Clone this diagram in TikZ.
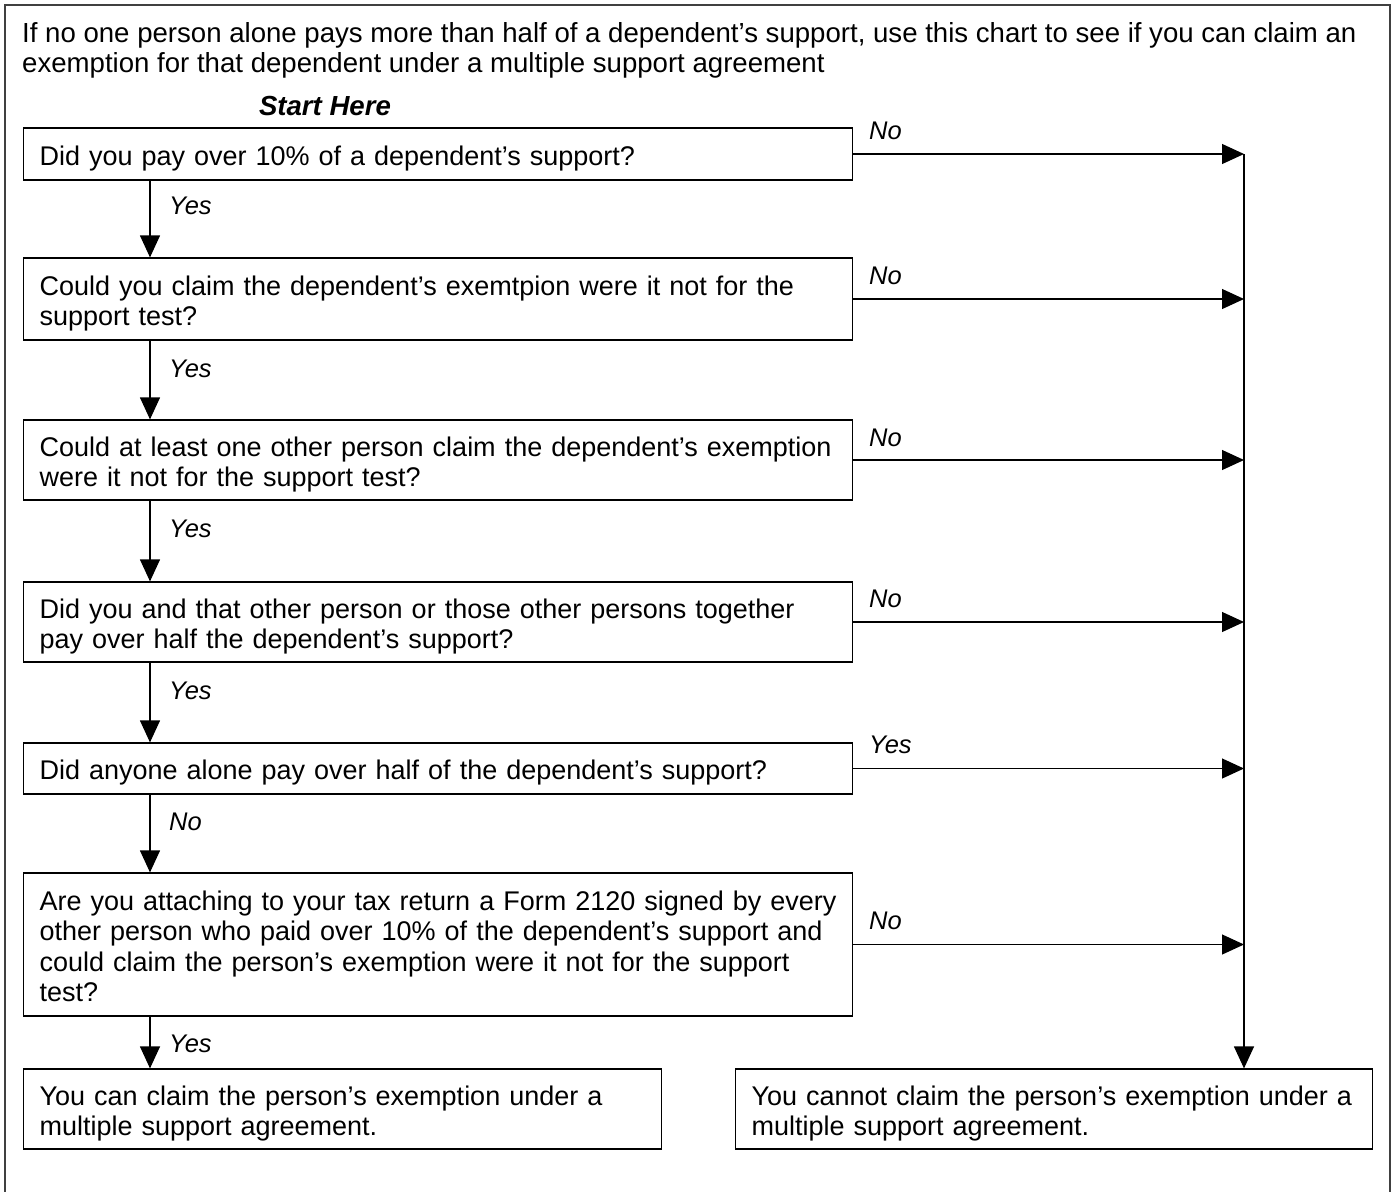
\documentclass[tikz,border=0pt]{standalone}
\usepackage{fontspec}
\setmainfont{Liberation Sans}
\usetikzlibrary{arrows.meta}
\newcommand{\mlines}[1]{\noindent\begin{tabular}{@{}l@{}}\rule{0pt}{32pt}#1\end{tabular}}
\newcommand{\tlines}[1]{\noindent\begin{tabular}{@{}l@{}}#1\end{tabular}}
\begin{document}
\begin{tikzpicture}[x=1pt,y=-1pt,
  font=\fontsize{27}{30.5}\selectfont,
  box/.style={draw, line width=1.2pt, rectangle, anchor=west, inner xsep=16pt, inner ysep=0pt, align=left},
  arr/.style={line width=1.2pt, -{Triangle[length=22pt,width=20pt]}},
  lab/.style={font=\fontsize{25.5}{30}\selectfont\itshape, inner sep=0pt, anchor=west}]
\useasboundingbox (0,0) rectangle (1393,1192);
% outer frame
\draw[line width=1.5pt, draw=black!75] (5,1220) -- (5,5) -- (1390,5) -- (1390,1220);
% title
\node[anchor=west, inner sep=0pt, align=left, font=\fontsize{27.6}{30}\selectfont] (title) at (22,51.5)
  {\tlines{If no one person alone pays more than half of a dependent’s support, use this chart to see if you can claim an\\
  exemption for that dependent under a multiple support agreement}};
\node[inner sep=0pt, font=\fontsize{27.6}{30.5}\selectfont\bfseries\itshape] (start) at (325,106) {Start Here};
% boxes
\node[box, minimum width=829pt, minimum height=52pt, text width=797pt] (b1) at (23,154)
  {\mlines{Did you pay over 10\% of a dependent’s support?}};
\node[box, minimum width=829pt, minimum height=82pt, text width=797pt] (b2) at (23,299)
  {\mlines{Could you claim the dependent’s exemtpion were it not for the\\support test?}};
\node[box, minimum width=829pt, minimum height=80pt, text width=797pt] (b3) at (23,460)
  {\mlines{Could at least one other person claim the dependent’s exemption\\were it not for the support test?}};
\node[box, minimum width=829pt, minimum height=80pt, text width=797pt] (b4) at (23,622)
  {\mlines{Did you and that other person or those other persons together\\pay over half the dependent’s support?}};
\node[box, minimum width=829pt, minimum height=51pt, text width=797pt] (b5) at (23,768.5)
  {\mlines{Did anyone alone pay over half of the dependent’s support?}};
\node[box, minimum width=829pt, minimum height=143pt, text width=797pt] (b6) at (23,944.5)
  {\mlines{Are you attaching to your tax return a Form 2120 signed by every\\
  other person who paid over 10\% of the dependent’s support and\\
  could claim the person’s exemption were it not for the support\\test?}};
\node[box, minimum width=638pt, minimum height=80pt, text width=606pt] (can) at (23,1109)
  {\mlines{You can claim the person’s exemption under a\\multiple support agreement.}};
\node[box, minimum width=637pt, minimum height=80pt, text width=605pt] (cannot) at (735,1109)
  {\mlines{You cannot claim the person’s exemption under a\\multiple support agreement.}};
% guide coordinates
\coordinate (dl) at (150,0);
\coordinate (rl) at (1244,0);
% down arrows
\draw[arr] (b1.south -| dl) -- (b2.north -| dl);
\draw[arr] (b2.south -| dl) -- (b3.north -| dl);
\draw[arr] (b3.south -| dl) -- (b4.north -| dl);
\draw[arr] (b4.south -| dl) -- (b5.north -| dl);
\draw[arr] (b5.south -| dl) -- (b6.north -| dl);
\draw[arr] (b6.south -| dl) -- (can.north -| dl);
% right arrows
\draw[arr] (b1.east) -- (b1.east -| rl);
\draw[arr] (b2.east) -- (b2.east -| rl);
\draw[arr] (b3.east) -- (b3.east -| rl);
\draw[arr] (b4.east) -- (b4.east -| rl);
\draw[arr] (b5.east) -- (b5.east -| rl);
\draw[arr] (b6.east) -- (b6.east -| rl);
\draw[arr] (b1.east -| rl) -- (cannot.north -| rl);
% labels
\node[lab] (l1) at (869,131) {No};
\node[lab] (l2) at (869,276) {No};
\node[lab] (l3) at (869,438) {No};
\node[lab] (l4) at (869,599) {No};
\node[lab] (l5) at (869,745) {Yes};
\node[lab] (l6) at (869,921) {No};
\node[lab] (d1) at (169,206) {Yes};
\node[lab] (d2) at (169,369) {Yes};
\node[lab] (d3) at (169,529) {Yes};
\node[lab] (d4) at (169,691) {Yes};
\node[lab] (d5) at (169,822) {No};
\node[lab] (d6) at (169,1044) {Yes};
\end{tikzpicture}
\end{document}
